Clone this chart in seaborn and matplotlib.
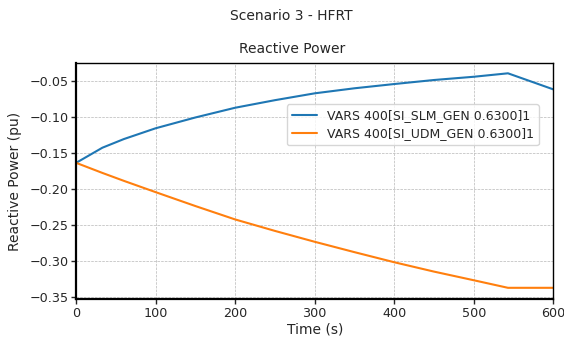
import numpy as np
import pandas as pd
import seaborn as sns
import matplotlib.pyplot as plt

# values
time_s = [0, 33, 60, 100, 150, 200, 250, 300, 350, 400, 450, 500, 543, 600]
slm_gen = [-0.164, -0.143, -0.131, -0.116, -0.101, -0.0875, -0.077, -0.0675, -0.0605, -0.0546, -0.049, -0.0445, -0.0397, -0.062]
udm_gen = [-0.164, -0.178, -0.189, -0.2047, -0.224, -0.2426, -0.2585, -0.2736, -0.288, -0.302, -0.315, -0.327, -0.3375, -0.3375]

names = ['VARS 400[SI_SLM_GEN 0.6300]1', 'VARS 400[SI_UDM_GEN 0.6300]1']
df = pd.concat([
    pd.DataFrame({'t': time_s, 'q': slm_gen, 'series': names[0]}),
    pd.DataFrame({'t': time_s, 'q': udm_gen, 'series': names[1]}),
])

sns.set_style('ticks')
plt.rcParams['font.family'] = ['DejaVu Sans']

fig, ax = plt.subplots(figsize=(5.64, 3.39), dpi=100)
sns.lineplot(data=df, x='t', y='q', hue='series', palette=['#1f77b4', '#ff7f0e'],
             ax=ax, linewidth=1.5, estimator=None, sort=False)

ax.set_xlim(0, 600)
ax.set_ylim(-0.3535, -0.025)
ax.set_xticks([0, 100, 200, 300, 400, 500, 600])
ax.set_yticks([-0.35, -0.30, -0.25, -0.20, -0.15, -0.10, -0.05])
ax.grid(True, linestyle='--', color='#b8b8b8', linewidth=0.5)
for s in ax.spines.values():
    s.set_color('black')
    s.set_linewidth(1.0)
ax.spines['left'].set_linewidth(1.6)
ax.spines['bottom'].set_linewidth(1.6)
ax.tick_params(labelsize=9.2, length=3.5, width=1, pad=2)

ax.set_xlabel('Time (s)', fontsize=10, labelpad=2)
ax.set_ylabel('Reactive Power (pu)', fontsize=10, labelpad=5)
ax.set_title('Reactive Power', fontsize=10, pad=7, x=0.453)
fig.suptitle('Scenario 3 - HFRT', fontsize=10, x=0.516, y=0.972)

ax.legend(title=None, loc='upper right', bbox_to_anchor=(0.983, 0.85), fontsize=9,
          frameon=True, handlelength=2.0, borderpad=0.4, labelspacing=0.4)

fig.subplots_adjust(left=0.135, right=0.981, top=0.815, bottom=0.117)
fig.savefig('out.png', dpi=100)
